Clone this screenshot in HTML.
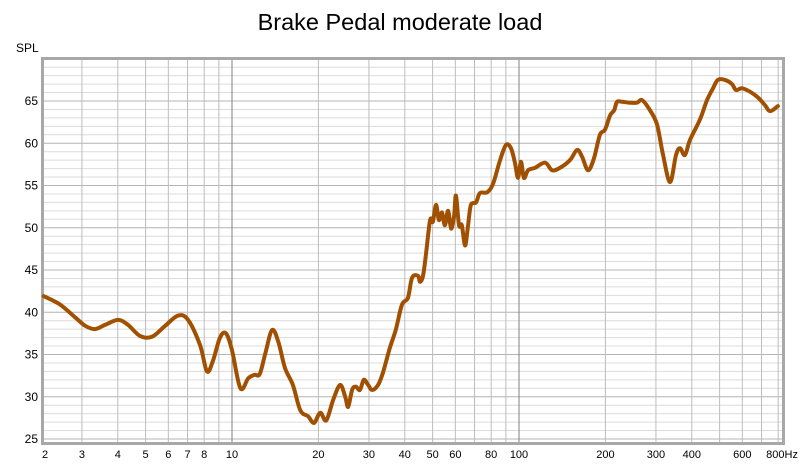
<!DOCTYPE html>
<html><head><meta charset="utf-8"><style>
body{margin:0;background:#fff;font-family:"Liberation Sans",Arial,sans-serif}
svg text{font-family:"Liberation Sans",Arial,sans-serif}
</style></head><body>
<svg id="chart" width="800" height="467" xmlns="http://www.w3.org/2000/svg">
<text x="400" y="30" text-anchor="middle" font-size="23.5" fill="#000">Brake Pedal moderate load</text>
<text x="16" y="52" font-size="12" fill="#000">SPL</text>
<g id="grid"></g><g id="labels"></g><g id="series"></g>
</svg>
<script>
const freqs=[2.21,2.52,2.84,3.08,3.33,3.61,4.01,4.34,4.78,5.26,5.85,6.49,7.03,7.74,8.18,8.59,9.08,9.53,10,10.7,11.4,12.0,12.5,13.1,13.8,14.5,15.3,16.3,17.3,18.4,19.3,20.3,21.3,22.5,23.8,24.8,25.4,26.2,27.0,27.9,28.8,29.8,30.8,32.3,33.6,35.5,37.2,39.1,41.0,42.4,44.5,45.2,46.3,47.4,49.0,50.1,51.4,52.6,53.9,55.2,56.6,58.0,59.4,60.3,61.8,63.2,64.9,66.4,68.0,70.8,73.1,77.4,81.2,85.9,90.1,93.8,96.8,99.2,101.6,104.0,107.5,113.7,123.3,130.4,139.0,150.6,159.3,165.9,174,182.4,191.4,199.3,207.7,214.5,219.5,228.6,243.6,257.6,268.4,286,302.7,317.7,335.9,352.4,363.9,378.6,394.2,427,451.9,474.2,493.3,522.2,552.4,570.3,598.4,638.3,680.7,719.8,749.7,798.4];
const spl=[41.9,40.9,39.4,38.4,38.0,38.5,39.1,38.5,37.2,37.1,38.4,39.6,39.1,36.1,33.0,34.3,37.0,37.5,35.5,31.0,32.2,32.6,32.7,35.3,37.9,36.5,33.4,31.4,28.4,27.7,26.9,28.1,27.2,29.6,31.4,30.0,28.8,30.8,31.2,30.8,32.0,31.4,30.8,31.4,32.9,35.8,37.9,40.9,41.7,44.1,44.3,43.6,44.3,46.8,50.9,50.7,52.7,50.9,51.8,50.3,52.0,49.9,51.4,53.8,50.3,50.3,47.9,50.2,52.7,53.0,54.1,54.2,55.2,58.0,59.8,59.4,57.7,55.9,57.8,55.9,56.8,57.1,57.7,56.8,57.1,58.0,59.2,58.4,56.8,58.2,61.0,61.6,63.3,63.9,64.9,64.9,64.8,64.8,65.1,63.9,62.2,58.6,55.4,58.6,59.4,58.6,60.4,62.8,65.1,66.5,67.5,67.5,67.0,66.3,66.5,66.1,65.4,64.5,63.8,64.4];
const yTicks=[25,30,35,40,45,50,55,60,65];
const xTickLabels=["2","3","4","5","6","7","8","10","20","30","40","50","60","80","100","200","300","400","600","800Hz"];
const xTickVals=[2,3,4,5,6,7,8,10,20,30,40,50,60,80,100,200,300,400,600,800];
const L=44,R=782,T=60,B=442;
const X=f=>232+287*(Math.log10(f)-1);
const Y=v=>101+(65-v)*8.45;
const NS="http://www.w3.org/2000/svg";
function mk(tag,attrs,parent){const e=document.createElementNS(NS,tag);for(const k in attrs)e.setAttribute(k,attrs[k]);parent.appendChild(e);return e;}
const grid=document.getElementById('grid'),labels=document.getElementById('labels'),series=document.getElementById('series');
const bg=mk('rect',{x:L-3,y:T-3,width:R-L+6,height:B-T+6,fill:'#a8a8a8'},grid);


const pa=mk('rect',{x:L,y:T,width:R-L,height:B-T,fill:'#fff'},grid);


for(let v=25;v<=70;v++){const y=Y(v);if(y<T||y>B)continue;
 const ln=mk('line',{x1:L,x2:R,y1:y,y2:y,stroke:v%5===0?'#b4b4b4':'#dcdcdc','stroke-width':1},grid);
 
 }
[2,3,4,5,6,7,8,9,10,20,30,40,50,60,70,80,90,100,200,300,400,500,600,700,800].forEach(f=>{const x=X(f);if(x<L||x>R)return;
 const dec=(f===10||f===100);
 const ln=mk('line',{x1:x,x2:x,y1:T,y2:B,stroke:dec?'#808080':'#bcbcbc','stroke-width':1},grid);
 
 });
yTicks.forEach(v=>{const t=mk('text',{x:38,y:Y(v)+4,'text-anchor':'end','font-size':12,fill:'#000'},labels);t.textContent=v;
 
 });
xTickLabels.forEach((s,i)=>{let x=Math.max(X(xTickVals[i]),45);const t=mk('text',{x:x,y:458,'text-anchor':'middle','font-size':11,fill:'#000'},labels);
 if(s==="800Hz"){t.setAttribute('x',X(800)-12);t.setAttribute('text-anchor','start');}
 t.textContent=s;
 
 });
const pts=freqs.map((f,i)=>[X(f),Y(spl[i])]);
let d='M'+pts[0][0].toFixed(1)+' '+pts[0][1].toFixed(1);
for(let i=0;i<pts.length-1;i++){
 const p0=pts[Math.max(i-1,0)],p1=pts[i],p2=pts[i+1],p3=pts[Math.min(i+2,pts.length-1)];
 const c1x=p1[0]+(p2[0]-p0[0])/6,c1y=p1[1]+(p2[1]-p0[1])/6;
 const c2x=p2[0]-(p3[0]-p1[0])/6,c2y=p2[1]-(p3[1]-p1[1])/6;
 d+=' C'+c1x.toFixed(1)+' '+c1y.toFixed(1)+' '+c2x.toFixed(1)+' '+c2y.toFixed(1)+' '+p2[0].toFixed(1)+' '+p2[1].toFixed(1);
}
const p=mk('path',{d:d,fill:'none',stroke:'#a05000','stroke-width':4,'stroke-linejoin':'round','stroke-linecap':'round'},series);


</script>
</body></html>
